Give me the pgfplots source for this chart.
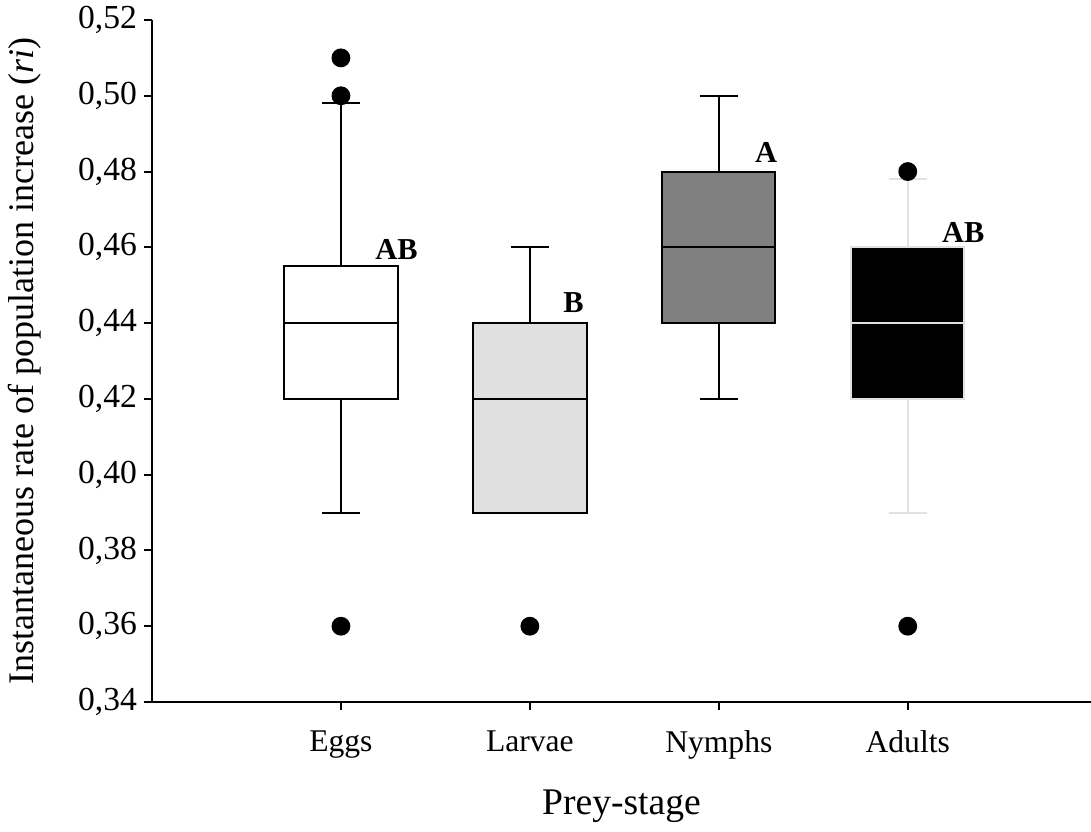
\documentclass[border=0pt]{standalone}
\usepackage{fontspec}
\setmainfont{Liberation Serif}
\usepackage{pgfplots}
\pgfplotsset{compat=1.18}
\usepgfplotslibrary{statistics}
\usetikzlibrary{calc}

\definecolor{lightfill}{RGB}{224,224,224}
\definecolor{midfill}{RGB}{128,128,128}
\definecolor{paleline}{RGB}{225,225,225}

\begin{document}
\begin{tikzpicture}
\begin{axis}[
  name=ax,
  scale only axis,
  width=469.5pt, height=341pt,
  xmin=0, xmax=4.97,
  ymin=0.34, ymax=0.52,
  axis x line=bottom, axis y line=left,
  axis line style={-, line width=1pt},
  xtick={1,2,3,4},
  xticklabels={Eggs,Larvae,Nymphs,Adults},
  ytick={0.34,0.36,...,0.521},
  tick align=outside,
  major tick length=4pt,
  tick style={line width=1pt, black},
  yticklabel style={font=\fontsize{16.8}{19}\selectfont,
    /pgf/number format/.cd, fixed, fixed zerofill, precision=2, use comma, assume math mode=true},
  xticklabel style={font=\fontsize{15.8}{18}\selectfont, yshift=-7pt},
  xlabel={Prey-stage},
  ylabel={Instantaneous rate of population increase (\textit{ri})},
  xlabel style={font=\fontsize{18.8}{21}\selectfont, at={(axis description cs:0.5,-0.153)}, anchor=center},
  ylabel style={font=\fontsize{18}{21}\selectfont, at={(axis description cs:-0.136,0.5)}, anchor=center},
  boxplot/draw direction=y,
  clip=false,
]
% Eggs
\addplot[draw=black, fill=white, line width=1pt, mark=*, mark size=4.2pt,
  mark options={black, fill=black, solid},
  boxplot prepared={lower whisker=0.39, lower quartile=0.42, median=0.44,
    upper quartile=0.455, upper whisker=0.498, draw position=1,
    box extend=0.6, whisker extend=0.2}]
  table[row sep=\\, y index=0] {0.51\\0.50\\0.36\\};
% Larvae
\addplot[draw=black, fill=lightfill, line width=1pt, mark=*, mark size=4.2pt,
  mark options={black, fill=black, solid},
  boxplot prepared={lower whisker=0.39, lower quartile=0.39, median=0.42,
    upper quartile=0.44, upper whisker=0.46, draw position=2,
    box extend=0.6, whisker extend=0.2}]
  table[row sep=\\, y index=0] {0.36\\};
% Nymphs
\addplot[draw=black, fill=midfill, line width=1pt,
  boxplot prepared={lower whisker=0.42, lower quartile=0.44, median=0.46,
    upper quartile=0.48, upper whisker=0.50, draw position=3,
    box extend=0.6, whisker extend=0.2}]
  coordinates {};
% Adults
\addplot[draw=paleline, fill=black, line width=1pt, mark=*, mark size=4.2pt,
  mark options={black, fill=black, solid},
  boxplot prepared={lower whisker=0.39, lower quartile=0.42, median=0.44,
    upper quartile=0.46, upper whisker=0.478, draw position=4,
    box extend=0.6, whisker extend=0.2}]
  table[row sep=\\, y index=0] {0.48\\0.36\\};

\node[anchor=base west, inner sep=0pt, font=\fontsize{15.2}{18}\selectfont\bfseries] at (axis cs:1.18,0.4567) {AB};
\node[anchor=base west, inner sep=0pt, font=\fontsize{15.2}{18}\selectfont\bfseries] at (axis cs:2.175,0.4427) {B};
\node[anchor=base west, inner sep=0pt, font=\fontsize{15.2}{18}\selectfont\bfseries] at (axis cs:3.19,0.4823) {A};
\node[anchor=base west, inner sep=0pt, font=\fontsize{15.2}{18}\selectfont\bfseries] at (axis cs:4.18,0.4614) {AB};
\end{axis}
\pgfresetboundingbox
\useasboundingbox ($(ax.south west)+(-76pt,-65pt)$) rectangle ($(ax.north east)+(0pt,10pt)$);
\end{tikzpicture}
\end{document}
